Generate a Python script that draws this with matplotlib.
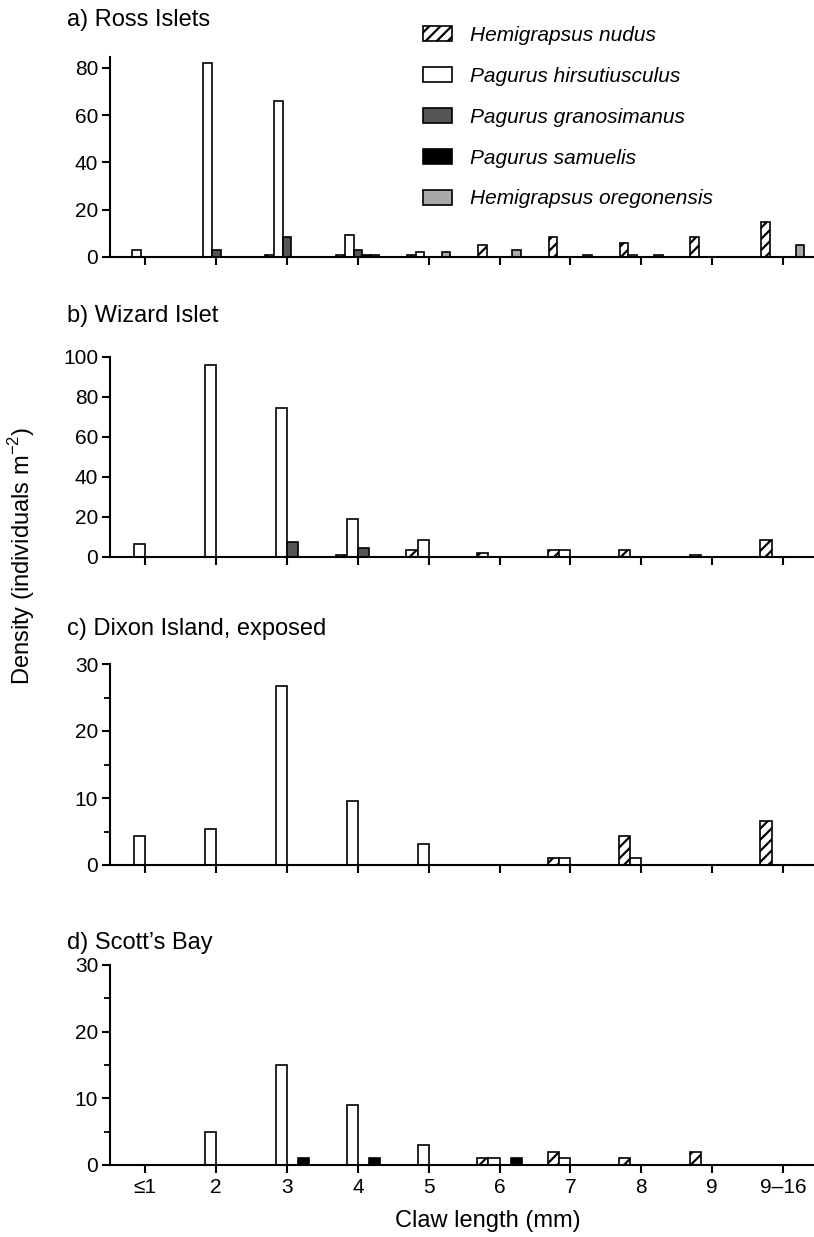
import numpy as np
import matplotlib.pyplot as plt
from matplotlib.ticker import MultipleLocator

plt.rcParams['font.family'] = ['Liberation Sans', 'DejaVu Sans']
plt.rcParams['mathtext.fontset'] = 'custom'
plt.rcParams['mathtext.rm'] = 'Liberation Sans'
plt.rcParams['hatch.linewidth'] = 1.6

# claw length classes (mm)
sizes = ['≤1', '2', '3', '4', '5', '6', '7', '8', '9', '9–16']

nudus = 'Hemigrapsus nudus'
hirsut = 'Pagurus hirsutiusculus'
granos = 'Pagurus granosimanus'
samuel = 'Pagurus samuelis'
oregon = 'Hemigrapsus oregonensis'

# a) Ross Islets
ross_nudus = [0, 0, 1, 1, 1, 5, 8.5, 6, 8.5, 15]
ross_hirsut = [3, 82, 66, 9.5, 2, 0, 0, 1, 0, 0]
ross_granos = [0, 3, 8.5, 3, 0, 0, 0, 0, 0, 0]
ross_samuel = [0, 0, 0, 1, 0, 0, 0, 0, 0, 0]
ross_oregon = [0, 0, 0, 1, 2, 3, 1, 1, 0, 5]

# b) Wizard Islet
wiz_nudus = [0, 0, 0, 1, 3.5, 2, 3.5, 3.5, 1, 8.5]
wiz_hirsut = [6.5, 96, 74.5, 19, 8.5, 0, 3.5, 0, 0, 0]
wiz_granos = [0, 0, 7.5, 4.5, 0, 0, 0, 0, 0, 0]
wiz_samuel = [0, 0, 0, 0, 0, 0, 0, 0, 0, 0]

# c) Dixon Island, exposed
dix_nudus = [0, 0, 0, 0, 0, 0, 1, 4.3, 0, 6.5]
dix_hirsut = [4.3, 5.4, 26.7, 9.6, 3.2, 0, 1, 1, 0, 0]
dix_granos = [0, 0, 0, 0, 0, 0, 0, 0, 0, 0]
dix_samuel = [0, 0, 0, 0, 0, 0, 0, 0, 0, 0]

# d) Scott's Bay
scott_nudus = [0, 0, 0, 0, 0, 1, 2, 1, 2, 0]
scott_hirsut = [0, 5, 15, 9, 3, 1, 1, 0, 0, 0]
scott_granos = [0, 0, 0, 0, 0, 0, 0, 0, 0, 0]
scott_samuel = [0, 0, 1, 1, 0, 1, 0, 0, 0, 0]

styles = {
    nudus: dict(facecolor='white', hatch='///'),
    hirsut: dict(facecolor='white'),
    granos: dict(facecolor='#555555'),
    samuel: dict(facecolor='black'),
    oregon: dict(facecolor='#a9a9a9'),
}

W, H = 814, 1237
fig = plt.figure(figsize=(W / 100, H / 100), dpi=100)


def make_axes(top, bottom):
    return fig.add_axes([110 / W, 1 - bottom / H, 1 - 110 / W, (bottom - top) / H])


def draw_panel(ax, values_list, names, width):
    n = len(values_list)
    x = np.arange(len(sizes))
    for i, (vals, name) in enumerate(zip(values_list, names)):
        vals = np.array(vals, dtype=float)
        m = vals > 0
        ax.bar(x[m] + (i - (n - 1) / 2) * width, vals[m], width, label=name,
               edgecolor='black', linewidth=1.2, **styles[name])
    ax.set_xlim(-0.5, 9.44)
    ax.set_xticks(x)
    ax.set_xticklabels([])
    for s in ['top', 'right']:
        ax.spines[s].set_visible(False)
    for s in ['left', 'bottom']:
        ax.spines[s].set_linewidth(1.5)
    ax.tick_params(axis='x', direction='out', length=5.5, width=1.5, pad=4)
    ax.tick_params(axis='y', direction='out', length=5.5, width=1.5, pad=3, labelsize=15)
    ax.tick_params(axis='y', which='minor', direction='out', length=4, width=1.3)


ax_a = make_axes(57, 257)
draw_panel(ax_a, [ross_nudus, ross_hirsut, ross_granos, ross_samuel, ross_oregon],
           [nudus, hirsut, granos, samuel, oregon], 0.122)
ax_a.set_ylim(0, 84.6)
ax_a.set_yticks([0, 20, 40, 60, 80])

ax_b = make_axes(357, 557)
draw_panel(ax_b, [wiz_nudus, wiz_hirsut, wiz_granos, wiz_samuel],
           [nudus, hirsut, granos, samuel], 0.158)
ax_b.set_ylim(0, 100)
ax_b.set_yticks([0, 20, 40, 60, 80, 100])

ax_c = make_axes(664, 865)
draw_panel(ax_c, [dix_nudus, dix_hirsut, dix_granos, dix_samuel],
           [nudus, hirsut, granos, samuel], 0.158)
ax_c.set_ylim(0, 30)
ax_c.set_yticks([0, 10, 20, 30])
ax_c.yaxis.set_minor_locator(MultipleLocator(5))

ax_d = make_axes(965, 1165)
draw_panel(ax_d, [scott_nudus, scott_hirsut, scott_granos, scott_samuel],
           [nudus, hirsut, granos, samuel], 0.158)
ax_d.set_ylim(0, 30)
ax_d.set_yticks([0, 10, 20, 30])
ax_d.yaxis.set_minor_locator(MultipleLocator(5))
ax_d.set_xticklabels(sizes, fontsize=15)

titles = ['a) Ross Islets', 'b) Wizard Islet', 'c) Dixon Island, exposed', "d) Scott’s Bay"]
title_y = [20, 316, 629, 943]
for t, y in zip(titles, title_y):
    fig.text(67 / W, 1 - y / H, t, fontsize=17, ha='left', va='center')

fig.text(22 / W, 1 - 556 / H, r'Density (individuals m$^{-2}$)', rotation=90,
         fontsize=17, ha='center', va='center')
fig.text(488 / W, 1 - 1221 / H, 'Claw length (mm)', fontsize=17, ha='center', va='center')

ax_a.legend(loc='upper left', bbox_to_anchor=(423 / W, 1 - 26 / H),
            bbox_transform=fig.transFigure, frameon=False,
            prop={'style': 'italic', 'size': 15}, handlelength=1.4, handleheight=0.75,
            handletextpad=0.85, labelspacing=1.05, borderpad=0, borderaxespad=0)

fig.savefig('out.png', dpi=100)
